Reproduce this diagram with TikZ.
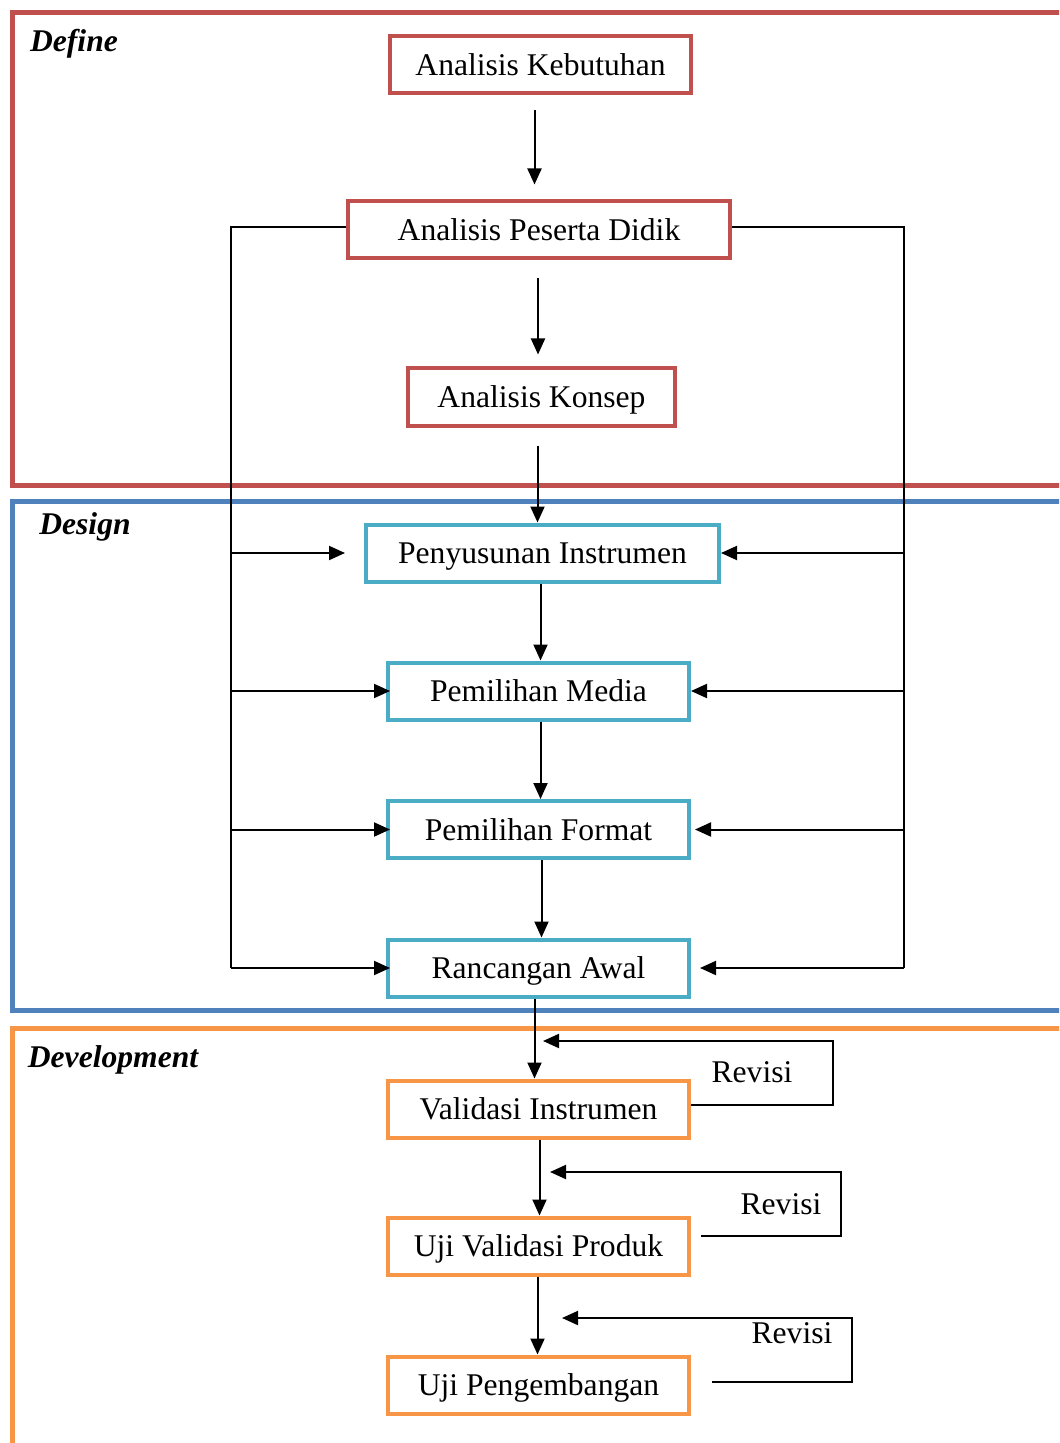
\documentclass[tikz,border=0pt]{standalone}
\usepackage{fontspec}
\setmainfont{Liberation Serif}
\usetikzlibrary{arrows.meta,calc}
\definecolor{dred}{HTML}{C0504D}
\definecolor{dblue}{HTML}{4F81BD}
\definecolor{dcyan}{HTML}{4BACC6}
\definecolor{dorange}{HTML}{F79646}
\begin{document}
\begin{tikzpicture}[x=0.5pt,y=-0.5pt,
  txt/.style={font=\fontsize{15.8}{19}\selectfont},
  box/.style={draw, line width=2pt, minimum height=28.5pt, inner sep=0pt, text height=10.5pt, text depth=0pt, txt},
  redbox/.style={box, draw=dred},
  cyanbox/.style={box, draw=dcyan},
  orabox/.style={box, draw=dorange},
  section/.style={line width=2.5pt},
  seclabel/.style={font=\fontsize{15.8}{19}\selectfont\bfseries\itshape},
  arr/.style={line width=1pt, -{Triangle[length=8pt,width=7pt]}},
  ln/.style={line width=1pt}
]
\useasboundingbox (0,0) rectangle (1059,1443);
\clip (0,0) rectangle (1059,1443);
% sections
\draw[section, draw=dred] (1080,12.5) -- (12.5,12.5) -- (12.5,485) -- (1080,485);
\draw[section, draw=dblue] (1080,501) -- (12.5,501) -- (12.5,1010) -- (1080,1010);
\draw[section, draw=dorange] (1080,1028) -- (12.5,1028) -- (12.5,1460);
\node[seclabel] (lDefine) at (74,44) {Define};
\node[seclabel] (lDesign) at (85,527) {Design};
\node[seclabel] (lDev) at (113,1060) {Development};
% nodes
\node[redbox, minimum width=150.5pt] (AK) at (540.5,65) {Analisis Kebutuhan};
\node[redbox, minimum width=191pt] (APD) at (539,230) {Analisis Peserta Didik};
\node[redbox, minimum width=133.5pt] (AKo) at (541.5,397) {Analisis Konsep};
\node[cyanbox, minimum width=176.5pt] (PI) at (542.5,553) {Penyusunan Instrumen};
\node[cyanbox, minimum width=150.5pt] (PM) at (538.5,691) {Pemilihan Media};
\node[cyanbox, minimum width=150.5pt] (PF) at (538.5,829.5) {Pemilihan Format};
\node[cyanbox, minimum width=150.5pt] (RA) at (538.5,968) {Rancangan Awal};
\node[orabox, minimum width=150.5pt] (VI) at (538.5,1109) {Validasi Instrumen};
\node[orabox, minimum width=150.5pt] (UVP) at (538.5,1246) {Uji Validasi Produk};
\node[orabox, minimum width=150.5pt] (UP) at (538.5,1385) {Uji Pengembangan};
% main vertical arrows (kept vertical)
\draw[arr, shorten <=7.5pt, shorten >=7.5pt] ($(AK.south)+(-6,0)$) -- ($(AK.south |- APD.north)+(-6,0)$);
\draw[arr, shorten <=9pt, shorten >=6pt] ($(APD.south)+(-1,0)$) -- ($(APD.south |- AKo.north)+(-1,0)$);
\draw[arr, shorten <=9pt] ($(AKo.south)+(-4,0)$) -- ($(AKo.south |- PI.north)+(-4,0)$);
\draw[arr] ($(PI.south)+(-2,0)$) -- ($(PI.south |- PM.north)+(-2,0)$);
\draw[arr] ($(PM.south)+(2,0)$) -- ($(PM.south |- PF.north)+(2,0)$);
\draw[arr] ($(PF.south)+(3,0)$) -- ($(PF.south |- RA.north)+(3,0)$);
\draw[arr] ($(RA.south)+(-4,0)$) -- ($(RA.south |- VI.north)+(-4,0)$);
\draw[arr] ($(VI.south)+(1,0)$) -- ($(VI.south |- UVP.north)+(1,0)$);
\draw[arr] ($(UVP.south)+(-1,0)$) -- ($(UVP.south |- UP.north)+(-1,0)$);
% left feedback bus
\coordinate (Ltop) at (231,227);
\coordinate (Lbot) at (231,968);
\draw[ln] ($(APD.west)+(0,-3)$) -- (Ltop) -- (Lbot);
\draw[arr, shorten >=9.5pt] (PI.west -| Lbot) -- (PI.west);
\draw[arr, shorten >=-2pt] (PM.west -| Lbot) -- (PM.west);
\draw[arr, shorten >=-2pt] (PF.west -| Lbot) -- (PF.west);
\draw[arr, shorten >=-2pt] (Lbot) -- (RA.west);
% right feedback bus
\coordinate (Rtop) at (904,227);
\coordinate (Rbot) at (904,968);
\draw[ln] ($(APD.east)+(0,-3)$) -- (Rtop) -- (Rbot);
\draw[arr] (PI.east -| Rbot) -- (PI.east);
\draw[arr] (PM.east -| Rbot) -- (PM.east);
\draw[arr, shorten >=2pt] (PF.east -| Rbot) -- (PF.east);
\draw[arr, shorten >=4.5pt] (Rbot) -- (RA.east);
% revisi loops
\coordinate (R1) at (833,1041);
\coordinate (T1) at (543,1041);
\draw[arr] ($(VI.east)+(0,-4)$) -| (R1) -- (T1);
\node[txt] (rv1) at (752,1072) {Revisi};
\coordinate (R2) at (841,1172);
\coordinate (T2) at (550,1172);
\draw[arr] ($(UVP.east)+(10,-10)$) -| (R2) -- (T2);
\node[txt] (rv2) at (781,1204) {Revisi};
\coordinate (R3) at (852,1318);
\coordinate (T3) at (562,1318);
\draw[arr] ($(UP.east)+(21,-3)$) -| (R3) -- (T3);
\node[txt] (rv3) at (792,1333) {Revisi};
\end{tikzpicture}
\end{document}
